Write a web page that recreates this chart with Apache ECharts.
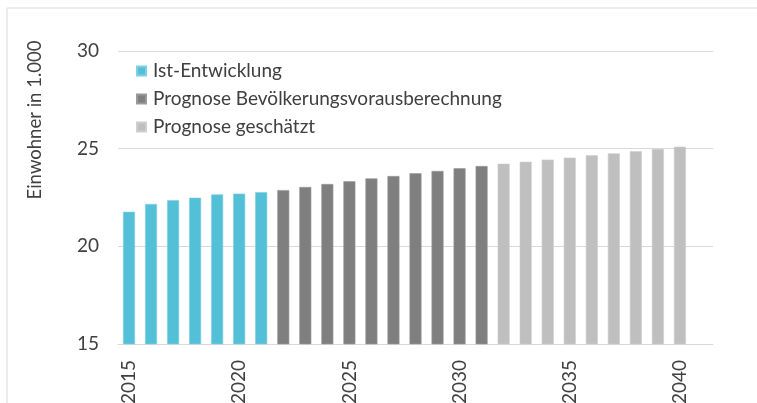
<!DOCTYPE html>
<html>
<head>
<meta charset="utf-8">
<script src="https://cdn.jsdelivr.net/npm/echarts@6/dist/echarts.min.js"></script>
<style>
  html, body { margin: 0; padding: 0; background: #fff; }
  #chart { width: 757px; height: 403px; }
</style>
</head>
<body>
<div id="chart"></div>
<script>
// Jahre (letzte Kategorie leer, wie im Original)
var years = ['2015','2016','2017','2018','2019','2020','2021','2022','2023','2024',
             '2025','2026','2027','2028','2029','2030','2031','2032','2033','2034',
             '2035','2036','2037','2038','2039','2040',''];
// Einwohner in 1.000
var istWerte = [21.77, 22.17, 22.36, 22.49, 22.66, 22.70, 22.77];
var prognoseWerte = [22.88, 23.04, 23.19, 23.33, 23.48, 23.60, 23.74, 23.86, 24.00, 24.11];
var geschaetztWerte = [24.23, 24.33, 24.44, 24.54, 24.66, 24.76, 24.87, 24.99, 25.10];
var seriesNames = ['Ist-Entwicklung', 'Prognose Bevölkerungsvorausberechnung', 'Prognose geschätzt'];

function place(values, offset) {
    var arr = [];
    for (var i = 0; i < years.length; i++) {
        var j = i - offset;
        arr.push(j >= 0 && j < values.length ? values[j] : null);
    }
    return arr;
}

var font = 'Lato';
var chart = echarts.init(document.getElementById('chart'));

var option = {
    animation: false,
    textStyle: { fontFamily: font },
    grid: { left: 118, right: 44, top: 51, bottom: 59, outerBoundsMode: 'none', containLabel: false },
    legend: {
        orient: 'vertical',
        left: 136,
        top: 61,
        padding: 0,
        itemWidth: 9,
        itemHeight: 9,
        itemGap: 8,
        icon: 'rect',
        textStyle: { fontFamily: font, fontSize: 19, color: '#404040', lineHeight: 20, padding: [0, 0, 0, 2] },
        data: seriesNames
    },
    graphic: [
        {
            type: 'rect',
            shape: { x: 7, y: 8, width: 800, height: 500 },
            style: { fill: 'none', stroke: '#d9d9d9', lineWidth: 1 }
        },
        {
            type: 'text',
            x: 35, y: 120,
            rotation: Math.PI / 2,
            style: {
                text: 'Einwohner in 1.000',
                fontFamily: font, fontSize: 18.5, fill: '#404040',
                align: 'center', verticalAlign: 'middle'
            }
        }
    ],
    xAxis: {
        type: 'category',
        data: years,
        axisTick: { show: false },
        axisLine: { lineStyle: { color: '#d9d9d9', width: 1 } },
        axisLabel: {
            interval: 4,
            rotate: 90,
            margin: 16,
            fontFamily: font, fontSize: 19, color: '#404040'
        }
    },
    yAxis: {
        type: 'value',
        min: 15, max: 30, interval: 5,
        axisLine: { show: false },
        axisTick: { show: false },
        splitLine: { lineStyle: { color: '#d9d9d9', width: 1 } },
        axisLabel: { margin: 19, fontFamily: font, fontSize: 19, color: '#404040' }
    },
    series: [
        {
            name: seriesNames[0], type: 'bar', barWidth: 12, barGap: '-100%',
            itemStyle: { color: '#54C0D7', borderColor: '#7FD0E2', borderWidth: 0.6 },
            data: place(istWerte, 0)
        },
        {
            name: seriesNames[1], type: 'bar', barWidth: 12, barGap: '-100%',
            itemStyle: { color: '#7F7F7F', borderColor: '#9a9a9a', borderWidth: 0.6 },
            data: place(prognoseWerte, 7)
        },
        {
            name: seriesNames[2], type: 'bar', barWidth: 12, barGap: '-100%',
            itemStyle: { color: '#BFBFBF', borderColor: '#cfcfcf', borderWidth: 0.6 },
            data: place(geschaetztWerte, 17)
        }
    ]
};
chart.setOption(option);
</script>
</body>
</html>
